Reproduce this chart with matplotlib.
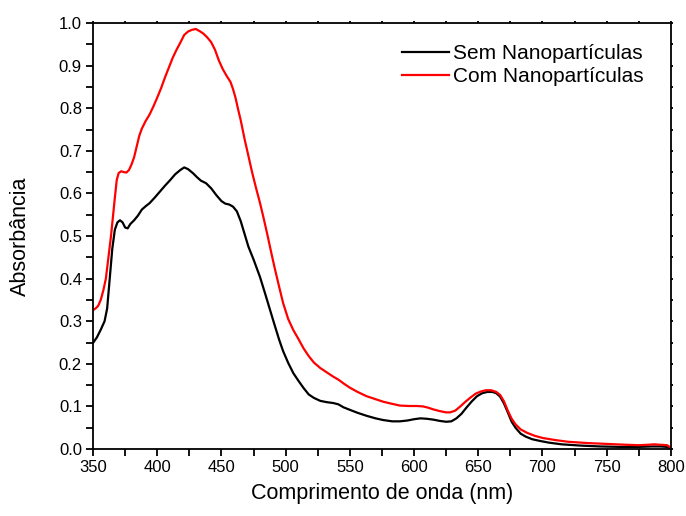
import matplotlib
matplotlib.use("Agg")
import matplotlib.pyplot as plt
from matplotlib.ticker import MultipleLocator

plt.rcParams["font.family"] = ["Liberation Sans", "DejaVu Sans"]

# absorbance spectrum without nanoparticles
wl_sem = [350, 353, 356, 359, 361, 363, 365, 367, 369, 371, 373, 375, 377, 379, 382, 385,
          388, 391, 394, 398, 402, 406, 410, 414, 418, 421, 424, 428, 431, 434, 438, 442,
          446, 450, 453, 456, 459, 462, 465, 468, 471, 475, 480, 484, 488, 491, 495, 498,
          502, 506, 510, 514, 518, 522, 527, 532, 537, 541, 545, 550, 556, 563, 570, 576,
          583, 589, 595, 600, 605, 610, 615, 620, 625, 629, 633, 637, 641, 645, 649, 653,
          657, 661, 664, 667, 670, 673, 676, 679, 683, 687, 692, 698, 705, 715, 730, 745,
          760, 775, 785, 792, 797, 799, 800]
abs_sem = [0.249, 0.262, 0.28, 0.30, 0.33, 0.40, 0.47, 0.515, 0.532, 0.537, 0.532, 0.52,
           0.518, 0.528, 0.537, 0.548, 0.562, 0.57, 0.577, 0.59, 0.604, 0.618, 0.631, 0.645,
           0.655, 0.661, 0.657, 0.647, 0.638, 0.630, 0.624, 0.612, 0.596, 0.582, 0.576, 0.574,
           0.569, 0.558, 0.535, 0.505, 0.475, 0.445, 0.404, 0.365, 0.325, 0.295, 0.256, 0.230,
           0.202, 0.178, 0.16, 0.143, 0.128, 0.12, 0.113, 0.11, 0.108, 0.105, 0.098, 0.092,
           0.085, 0.078, 0.072, 0.068, 0.065, 0.065, 0.067, 0.07, 0.072, 0.071, 0.069, 0.066,
           0.064, 0.065, 0.072, 0.083, 0.098, 0.112, 0.124, 0.131, 0.134, 0.134, 0.131, 0.123,
           0.107, 0.086, 0.064, 0.05, 0.036, 0.029, 0.023, 0.019, 0.015, 0.011, 0.008, 0.006,
           0.005, 0.005, 0.006, 0.006, 0.005, 0.003, 0.0]

# absorbance spectrum with nanoparticles
wl_com = [350, 352, 354, 356, 358, 360, 362, 364, 366, 367, 368.5, 370, 372, 374, 376, 378,
          380, 382, 384, 386, 388, 391, 394, 397, 400, 403, 406, 409, 412, 415, 418, 421,
          424, 427, 430, 433, 436, 439, 442, 445, 448, 451, 454, 457, 459, 461, 463, 465,
          468, 471, 474, 477, 480, 483, 486, 489, 492, 495, 498, 502, 506, 510, 514, 518,
          522, 527, 532, 537, 541, 546, 550, 556, 563, 570, 576, 583, 589, 596, 602, 607,
          611, 615, 620, 625, 628, 632, 636, 640, 644, 648, 652, 656, 660, 664, 667, 670,
          673, 676, 679, 683, 688, 694, 700, 710, 720, 735, 750, 765, 775, 782, 787, 792,
          797, 799, 800]
abs_com = [0.326, 0.33, 0.336, 0.35, 0.372, 0.40, 0.45, 0.50, 0.56, 0.59, 0.632, 0.648,
           0.652, 0.65, 0.649, 0.655, 0.668, 0.685, 0.71, 0.735, 0.752, 0.77, 0.785, 0.804,
           0.825, 0.847, 0.872, 0.895, 0.918, 0.937, 0.954, 0.972, 0.98, 0.984, 0.986, 0.981,
           0.975, 0.966, 0.955, 0.937, 0.912, 0.892, 0.876, 0.862, 0.845, 0.824, 0.797, 0.772,
           0.728, 0.688, 0.648, 0.612, 0.578, 0.54, 0.50, 0.458, 0.418, 0.38, 0.343, 0.305,
           0.279, 0.258, 0.236, 0.218, 0.203, 0.19, 0.18, 0.17, 0.163, 0.152, 0.144, 0.134,
           0.124, 0.117, 0.111, 0.106, 0.102, 0.101, 0.101, 0.1, 0.097, 0.093, 0.089, 0.086,
           0.086, 0.09, 0.1, 0.111, 0.121, 0.13, 0.135, 0.138, 0.138, 0.134, 0.127, 0.112,
           0.09, 0.071, 0.058, 0.046, 0.038, 0.031, 0.026, 0.021, 0.017, 0.014, 0.012, 0.01,
           0.009, 0.01, 0.011, 0.01, 0.009, 0.005, 0.0]

fig = plt.figure(figsize=(6.86, 5.16), dpi=100)
ax = fig.add_axes([0.1356, 0.1298, 0.8424, 0.8256])

ax.plot(wl_sem, abs_sem, color="black", lw=1.6, label="Sem Nanopartículas")
ax.plot(wl_com, abs_com, color="#ff0000", lw=1.6, label="Com Nanopartículas")

ax.set_xlim(350, 800)
ax.set_ylim(0, 1.0)
ax.xaxis.set_major_locator(MultipleLocator(50))
ax.xaxis.set_minor_locator(MultipleLocator(25))
ax.yaxis.set_major_locator(MultipleLocator(0.1))
ax.yaxis.set_minor_locator(MultipleLocator(0.05))
ax.yaxis.set_major_formatter(lambda v, pos: f"{v:.1f}")

for sp in ax.spines.values():
    sp.set_linewidth(1.3)
ax.tick_params(which="both", direction="out", length=5, width=1.3,
               top=True, right=True, labelsize=12, pad=3)
# short marks on the top and right spines
for axis in (ax.xaxis, ax.yaxis):
    for tick in axis.get_major_ticks() + axis.get_minor_ticks():
        tick.tick2line.set_markersize(1.5)

ax.set_xlabel("Comprimento de onda (nm)", fontsize=15.5, labelpad=6)
ax.set_ylabel("Absorbância", fontsize=15.5, labelpad=20)

ax.legend(loc="upper left", bbox_to_anchor=(0.5346, 0.95), frameon=False,
          fontsize=15, handlelength=2.25, handletextpad=0.2, borderpad=0,
          borderaxespad=0, labelspacing=0.2)

fig.savefig("out.png", dpi=100)
